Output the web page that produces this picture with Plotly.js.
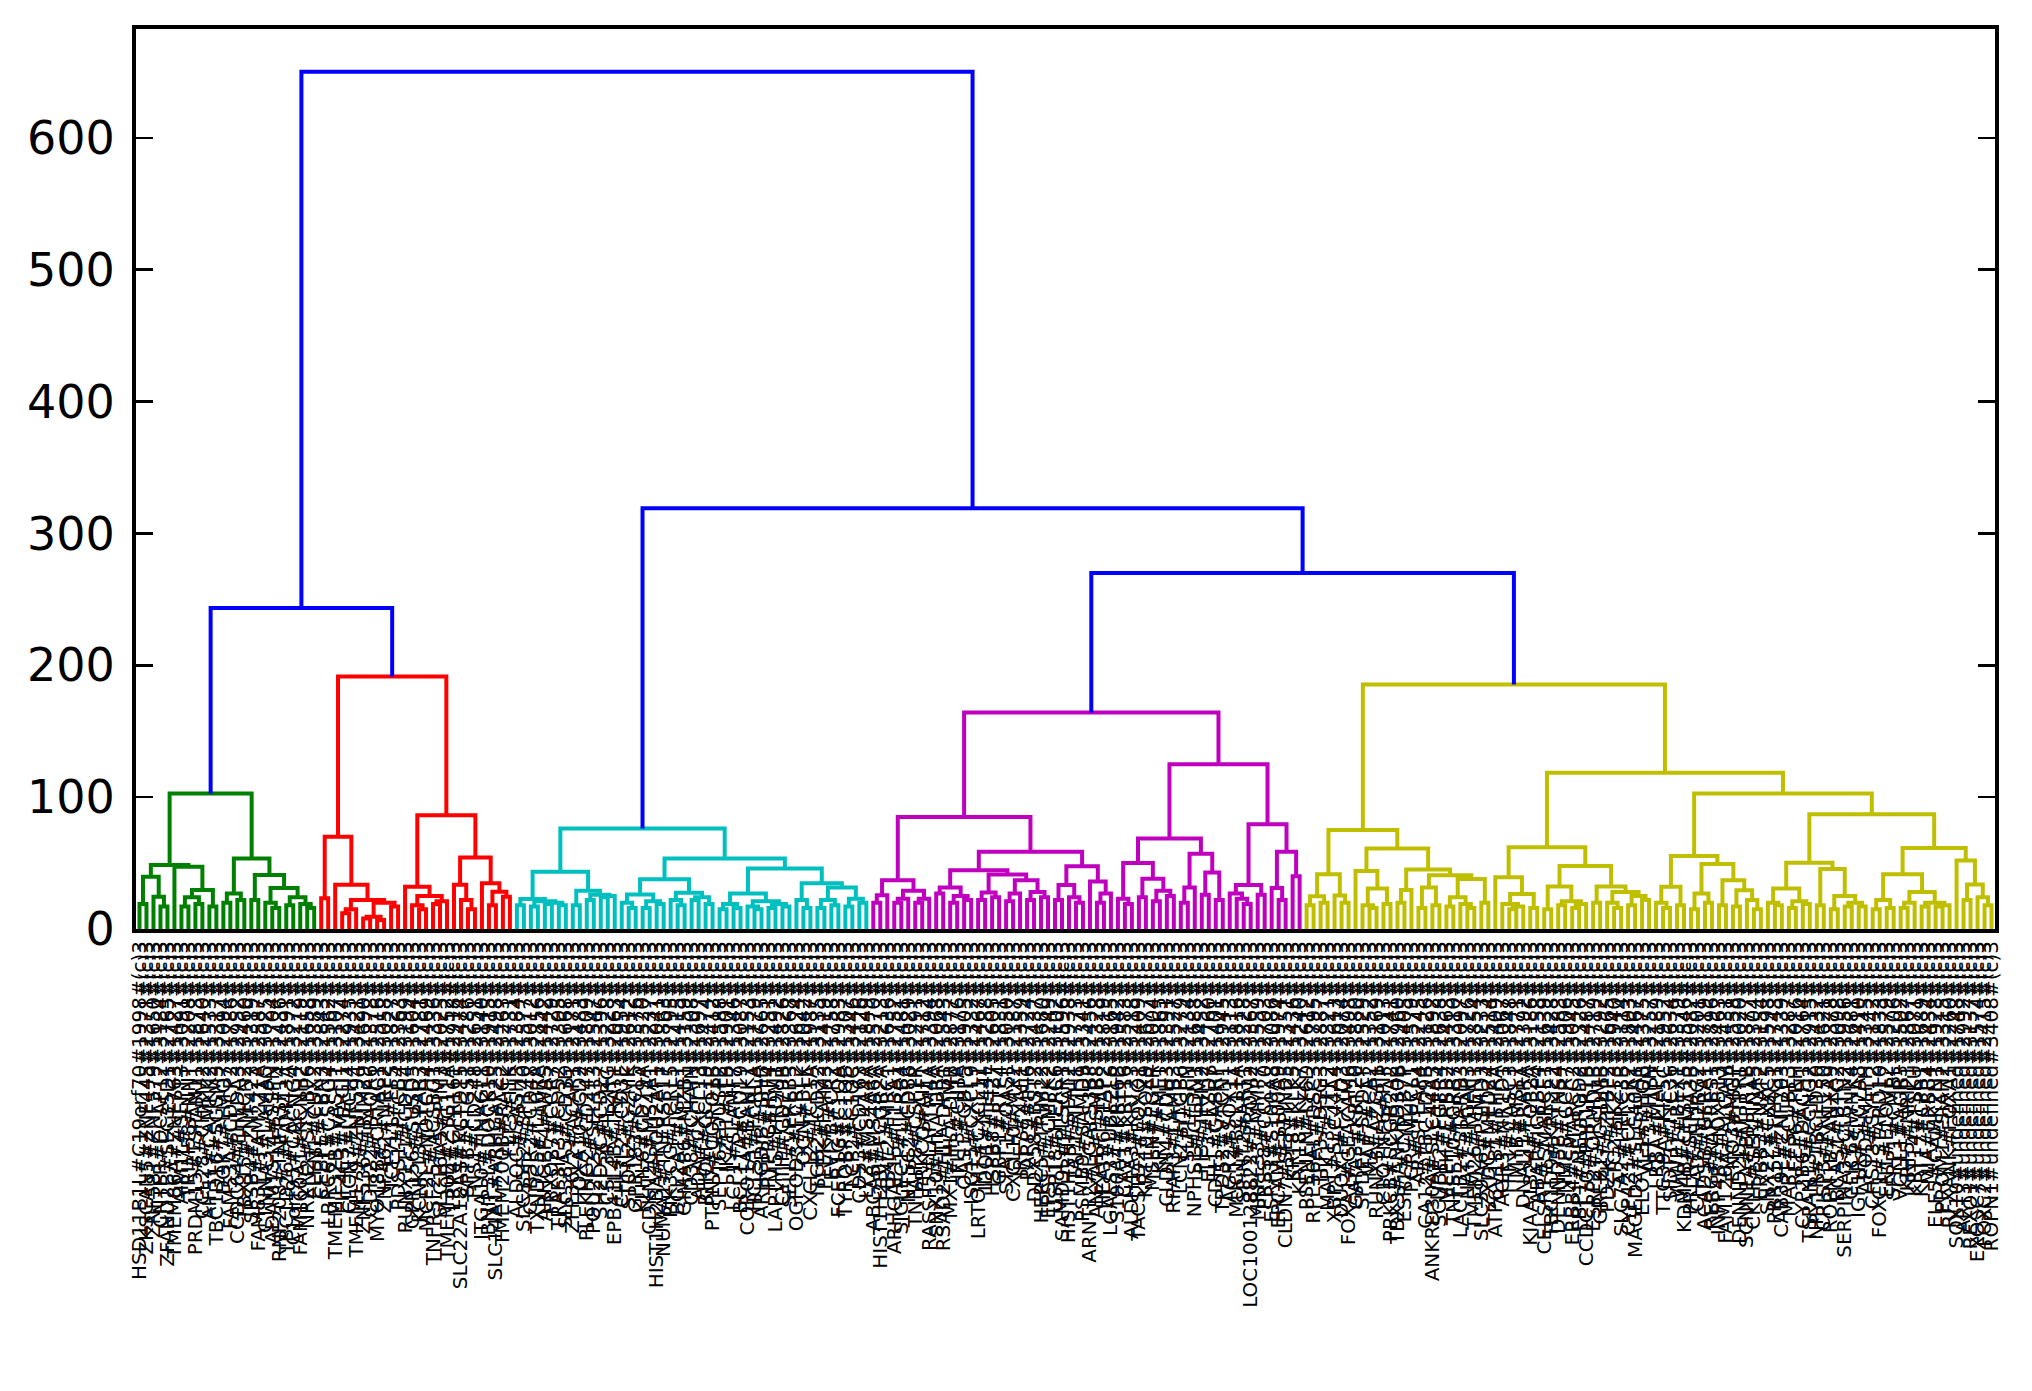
<!DOCTYPE html>
<html><head><meta charset="utf-8">
<script src="https://cdn.plot.ly/plotly-3.0.1.min.js"></script>
<style>html,body{margin:0;padding:0;background:#fff}#chart{width:2032px;height:1391px}</style>
</head><body><div id="chart"></div>
<script>
// ---- leaf labels ----
const geneSymbols = [
"HSD11B1L","ZKSCAN5","ZNF581","CNTFR","ZFAND2B","TMEM86A","AIM1L","TRIM58","PRDM15","CCL28",
"AIF1L","TBC1D16","DOK7","FAM53A","CCDC64","TBX15","SPSB4","FAM83F","CTNNA3","ADAMTS14",
"RNF208","TBC1D26","C1orf95","FAM160A1","NRXN2","ELFN1","CEBPE","LRRC61","TMEM132B","EIF4E3",
"CLCN7","TMEM179","ZNF536","CDH22","MYO18B","ZNF462","TCF7L1","PDSS1","RUNX1T1","GPR156",
"KCNK13","MCF2L","TNFRSF25","SLC16A5","TMEM30B","LRP4","SLC22A18AS","SPTB","TNS1","ITGA10",
"BNIP3L","SLC14A1","TMEM200B","FLT3","ALDOC","SLC35F2","CYB5R2","TXNDC5","ARHGEF4","FBXO27",
"TRAF3IP3","SLC38A5","ZFP36L2","HOXA10","PLEKHG2","POU2F2","SH2D3C","CSF3R","EPB41L4B","CHI3L2",
"STON2","GPR183","KLHL6","CDKN2C","HIST1H2BA","NUMA1","PIK3CG","BCL2A1","GIMAP6","CD38",
"ADA","RHOH","PTPN7","SEPT6","IKZF1","LCP1","BCL11A","CORO1A","HCLS1","ARHGDIB",
"PTPRC","LAPTM5","CYTIP","SELL","OGFOD3","OGN","CXCL12","ITGB2","PLEK","EVI2B",
"FCER1G","TYROBP","LCP2","CD53","LYZ","ABCA8","HIST1H2BJ","FBXL2","ARHGAP15","SIGLEC1",
"NT5C2","TNFAIP8","PRKCQ","RASSF5","SNX10","RSAD2","MX1","IFIT3","OAS1","ISG15",
"LRTOMT","IDO1","HSPB8","GBP1","STAT1","CXCL10","IRF7","PARP9","DDX58","HERC5",
"EPSTI1","USP18","SAMD9L","HIST1H3H","TAP1","PSMB9","ARNTL2","ANXA1","HEATR6","LGALS3",
"S100A4","CAV1","ALDH1A3","TACSTD2","KRT19","MSLN","KRT7","CLDN4","RPAP3","LCN2",
"SLPI","NPHS1","PI3","ELF3","CDH1","TPD52","AGR2","MUC1","SPINT2","LOC100128822",
"MRPL33","PRSS8","ESRP1","EPCAM","CLDN7","KRT8","KRT18","PSENEN","RPL36AL","TFF3",
"MAPK13","XBP1","DUOX1","FOXA1","GATA3","SPDEF","MAP7","RUNX3","C1QTNF6","PRKCB",
"TBX3","ESR1","PGR","AR","CA12","ANKRD30A","SCUBE2","MLPH","TNFSF10","LACTB2",
"NAT1","TMEM26","SLC39A6","ZXDC","ATP6V1B1","AGR3","TFF1","MYB","DNALI1","KIAA1324",
"ABAT","CELSR1","TBC1D9","DENND5B","NME5","ERBB4","FBP1","CCDC170","ESRP2","GREB1",
"PDZK1","STC2","SLC7A2","CYP4Z1","MAGED2","ELOVL5","AFF3","LRBA","TTC39A","SIDT1",
"WWP1","KDM4B","PRLR","CHAD","ACADSB","RERG","INPP4B","FAM120A","ENO3","DENND2D",
"SCNN1A","CKLF","ERBB3","SNX22","PRR15L","CAB39L","MAPT","REEP6","CYP2B6","TSPAN13",
"NPY1R","CRISP3","ROPN1B","BCAS1","SERPINA3","CLIC6","IGF1R","APOD","CHST3","FOXC1",
"EN1","SFRP1","VGLL1","KRT5","KRT14","KRT17","MIA","ELF5","PROM1","RFXANK",
"SOX10","ART3","REXO1","EXOSC7","FOXC2","ROPN1"
];
// second symbol of each label (partner gene)
const partnerSymbols = [
"C19orf70","ZNF445","ZNF579","DCAF12","SLC35D1","ZNF763","SEPT3","NNT","TSPAN11","CHRM2",
"CAMKK2","SGSM3","LMO7","CDCP2","PHLDA3","HMCN2","ZNF423","FAM221A","LAMA5","SSPN",
"TNFRSF14","FAM43A","CACNG4","KCNH2","STXBP6","CUX2","FBN3","CSPG4","VASH1","MAGI1",
"LRCH4","ZNF594","TRIM29","PAQR6","CRTAC1","NRP2","EFS","PLCB4","CDH4","SUSD5",
"LPAR3","NOTCH4","ACSBG1","PIM3","ZYG11A","GPR161","KCTD15","PTGS1","CD248","TINAGL1",
"DOCK10","ARHGAP25","RAC2","ITK","SASH3","SP140","CD48","IL10RA","WAS","CCR7",
"CD52","CD3D","ACAP1","CD2","CD247","SEL1L3","CD27","IL2RG","TRAT1","CD3E",
"GZMK","CCL5","CD79A","MS4A1","POU2AF1","TNFRSF17","FCRL5","IGLL1","MZB1","JCHAIN",
"CXCL13","CCL19","CORO1B","DUSP2","LTB","SLAMF7","CD19","BANK1","FCRLA","SPIB",
"IRF4","PRDM1","CD79B","VPREB3","FCRL2","BLK","TCL1A","CD22","FAIM3","CR2",
"C1QA","C1QB","C1QC","CD163","MS4A4A","MS4A6A","FCGR2A","MRC1","F13A1","LILRB4",
"CD86","CSF1R","AIF1","LAPTM4A","HLA-DRA","HLA-DPB1","HLA-DMB","CIITA","GBP5","CXCL9",
"CXCL11","IFI44L","IFI27","RTP4","OASL","MX2","XAF1","IFI6","BST2","TRIM22",
"CMPK2","HERC6","PLSCR1","STAT2","IFIH1","SAMD9","LGALS3BP","PSMB8","TAP2","UBE2L6",
"KRT6B","KRT16","KRT23","FOXQ1","SOX9","EGFR","MET","CDH3","LAMB3","ITGB6",
"SFN","CLDN1","TRIM2","FZD7","GABRP","VTCN1","SOX11","BCL11A","ART1","PROM2",
"MMP7","CCL20","S100A8","S100A9","SERPINB5","KLK5","KLK7","LY6D","DSC3","DSG3",
"TFF2","SLC44A4","FXYD3","CEACAM6","KRT20","SPDEF","CA2","AZGP1","PIP","SCGB2A2",
"ANKRD30B","CYP2B7P","MUCL1","STEAP4","TBC1D9B","SLC44A3","FGFR4","ERBB2","GRB7","STARD3",
"PGAP3","MIEN1","PSMD3","MED24","THRA","NR1D1","CASC3","MSL1","RARA","TOP2A",
"IGFBP4","SMARCE1","KRT222","TNS4","CCR7","SMARCC2","NEUROD2","PPP1R1B","ORMDL3","GSDMB",
"ZPBP2","IKZF3","LRRC3B","CELSR2","SLC40A1","RHOB","HPN","MAPT","KIF5C","TTC36",
"BEX1","CHST15","SEMA3B","NDRG2","GFRA1","RARRES1","HOXB13","ALCAM","MGP","PTPRT",
"BMPR1B","SERPINA5","NAT2","CXXC5","TPRG1","ZNF703","SCUBE3","TRH","DACH1","CCNG2",
"TBC1D30","RNF150","ANXA9","BTG2","CLSTN2","WNK4","SLC7A8","MLPH","SYTL2","STARD10",
"ELOVL2","CMBL","AGR3","NRIP1","TSKU","CPB1","ERBB4","CAMK2N1","SIAH2","FOXA1"
];
const geneIds = [
1998,2371,1650,3184,2765,1427,3091,2208,1873,2640,
1533,3317,2094,1786,2952,3460,1319,2587,3025,1704,
2436,1891,3272,2119,1658,3389,2843,1562,3107,2274,
1935,3421,2690,1378,2516,3058,1827,2363,3199,1604,
2781,1469,3336,2025,1752,2918,3474,1286,2651,3140,
1915,2498,3263,1731,2384,1577,3012,2856,1442,2729,
3305,1668,2171,3483,1809,2547,1396,3228,2063,1954,
2612,3376,1520,2237,3041,1863,2795,1415,3159,2308,
1697,2474,3412,1588,2901,1346,3087,2153,1779,2665,
3251,1492,2826,3368,1624,2042,1987,3135,2419,1758,
2983,1307,3446,2126,1849,2570,3213,1636,2752,1481,
3029,2291,1712,3394,2068,1543,2877,3176,1905,2332,
1467,3288,2605,1831,3050,2187,1359,2724,3437,1680,
2249,3102,1596,2938,1773,3341,2456,1328,2819,3165,
1942,2583,3218,1409,2677,3004,1865,2391,1527,3279,
2134,1688,3452,2760,1401,2945,3113,1816,2228,3367,
1559,2703,3086,1974,2351,1436,3240,2612,1795,2887,
3321,1613,2074,3498,1880,2529,1352,3169,2013,1741,
2960,3405,1579,2245,3126,1892,2638,1463,3310,2097,
1726,2854,3233,1514,2409,3067,1848,2771,1392,3186,
2158,1639,3428,2583,1906,3045,2326,1487,2719,3292,
1665,2940,3114,1803,2467,1375,3257,2189,1952,2634,
3379,1546,2082,3201,1719,2896,3463,1431,2558,3020,
1877,2304,3154,1598,2743,1339,3287,2016,1764,2915,
3432,1621,2378,3098,1956,2681,1410,3345,2142,1833,
2579,3206,1502,2867,3071,1689,2434,1928,3315,2260,
1748,2992,3137,1574,2415,3408
];

// ---- linkage (nested merges: "(left,right)height", leaves = leaf index) ----
const greenTree =
 "((((0,1)19,(2,(3,4)17)24.5)39.6,(5,(((6,7)17,(8,9)19)24,(10,11)17)29.5)47.2)48.5," +
 "(((12,13)20,(14,15)22)27,((16,17)22,((18,(19,20)16)20,((21,22)18,(23,(24,25)16)19)24)31)41)53.5)102.7";
const redTree =
 "(((26,27)23.4,(28,(((29,30)12,31)15,(((32,33)8,(34,35)6.8)9.3,(36,37)17)20)22)33.5)69.9," +
 "((38,((39,(40,41)15)18,((42,43)19,44)21)25)32,((45,(46,(47,48)15)22)33.5,(49,((50,51)18,(52,53)24.5)28.3)34.6)54.3)86.3)191.4";
const cyanTree =
 "((((54,55)18,((56,57)17,((58,59)19,(60,61)18)20)21)22.7,((62,63)18,((64,65)22,((66,67)24,68)25)26)29)43.4," +
 "((((69,(70,71)16)20,((72,73)16,(74,75)19)21)26.2,((76,(77,78)18)22,((79,80)22,(81,82)19)24)27.4)37.8," +
 "((((83,84)15,(85,86)16)19,((87,(88,89)15)17,((90,91)16,(92,93)17)19)21)27," +
 "((94,(95,96)16)22,(((97,98)16,(99,100)18)22,((101,102)17,(103,104)20)23)31.5)34.7)45.9)53.5)76.2";
const magentaTree =
 "(((((105,106)20,107)25.5,(((108,109)20,110)23,((111,112)20,113)23)29)37," +
 "((((114,115)27,((116,117)20,(118,119)22)25)31.5,(((120,121)22,(122,123)24)27.6,(((124,125)21,126)27,((127,128)22,(129,130)24)28)37)41.4)44.5," +
 "(((131,132)22,(133,(134,135)20)24)33.4,(136,((137,138)20,139)27)36)47.5)58.5)85," +
 "((((140,(141,142)19)23,((143,144)24,((145,146)21,(147,148)25)29)38.2)50,(((149,150)20,151)31.5,((152,153)26,(154,155)22)42.8)57)68.6," +
 "(((156,(157,(158,159)19)23)27,(160,161)26)33.4,((162,(163,164)22)31,(165,166)40)58.5)79.5)125)164.1";
const yellowTree =
 "(((((167,168)18,(169,170)20)24.9,(171,(172,173)20)25.4)41.6," +
 "((174,((175,(176,177)16)18,(178,179)19)30.8)44,(((180,181)20,182)29.6,(((183,184)16,(185,186)18)31.5,(((187,188)17,(189,(190,191)16)19)24,(192,193)20)38)40.8)45.2)61)75," +
 "(((194,((195,((196,197)15,198)17)19,(199,200)16)26.5)39.3," +
 "(((201,202)15,((203,204)18,((205,206)16,207)19)21)32.2,((208,209)20,((210,(211,212)16)20,((213,214)18,(215,216)22)25)28)32.2)47.7)61.9," +
 "((((217,(218,219)16)20,(220,221)18)32,(((222,223)15,(224,225)20)27,((226,227)18,((228,229)17,(230,(231,232)15)22)29.3)37)49.3)55.3," +
 "((((233,(234,235)18)20,((236,237)16,(238,239)19)21)30.7,((240,241)18,((242,243)15,((244,245)17,(246,247)17)20)25)45.5)50.2," +
 "((((248,249)15,(250,251)16)22,(((252,253)16,254)20,((255,256)17,((257,258)17,259)18)20)28)41.6,(260,((261,262)22,(263,(264,265)18)24)33.8)52)61.5)87.1)102.7)118.4)185.5";
// merges above the colour threshold (G,R,C,M,Y = the coloured clusters)
const upperTree = "((G,R)243.4,(C,(M,Y)269.9)319)650";

const clusterColors = {G:"#008000", R:"#ff0000", C:"#00bfbf", M:"#bf00bf", Y:"#bfbf00"};
const aboveColor = "#0000ff";
const yTicks = [0,100,200,300,400,500,600];

// ---- parse ----
function parseTree(str, color, subs) {
  let pos = 0;
  function num() {
    const m = /^\d+(\.\d+)?/.exec(str.slice(pos));
    pos += m[0].length;
    return parseFloat(m[0]);
  }
  function node() {
    const ch = str[pos];
    if (ch === "(") {
      pos++;
      const a = node();
      pos++; // ,
      const b = node();
      pos++; // )
      const h = num();
      return {kids: [a, b], h: h, color: color};
    } else if (/[A-Z]/.test(ch)) {
      pos++;
      return subs[ch];
    }
    return {leaf: num(), h: 0};
  }
  return node();
}
const subs = {
  G: parseTree(greenTree, clusterColors.G),
  R: parseTree(redTree, clusterColors.R),
  C: parseTree(cyanTree, clusterColors.C),
  M: parseTree(magentaTree, clusterColors.M),
  Y: parseTree(yellowTree, clusterColors.Y)
};
const root = parseTree(upperTree, aboveColor, subs);

// ---- layout like scipy dendrogram: leaf k at 5 + 10k ----
const leafOrder = [];
function place(n) {
  if (n.kids) {
    place(n.kids[0]); place(n.kids[1]);
    n.x = (n.kids[0].x + n.kids[1].x) / 2;
  } else {
    n.x = 5 + 10 * leafOrder.length;
    leafOrder.push(n.leaf);
  }
}
place(root);

const segs = {};
function collect(n) {
  if (!n.kids) return;
  const [a, b] = n.kids;
  const s = segs[n.color] || (segs[n.color] = {x: [], y: []});
  s.x.push(a.x, a.x, b.x, b.x, null);
  s.y.push(a.h, n.h, n.h, b.h, null);
  collect(a); collect(b);
}
collect(root);

const order = [clusterColors.G, clusterColors.R, clusterColors.C, clusterColors.M, clusterColors.Y, aboveColor];
const traces = order.map(c => ({
  type: "scatter", mode: "lines", x: segs[c].x, y: segs[c].y,
  line: {color: c, width: 4}, hoverinfo: "skip", showlegend: false, cliponaxis: false
}));

const nLeaves = leafOrder.length;
const tickvals = leafOrder.map((k, i) => 5 + 10 * i);
const ticktext = leafOrder.map(k => geneSymbols[k] + "#" + partnerSymbols[k] + "#" + geneIds[k] + "#(c)3");

const layout = {
  width: 2032, height: 1391,
  margin: {l: 136, r: 37, t: 29, b: 462, pad: 0},
  paper_bgcolor: "#fff", plot_bgcolor: "#fff",
  showlegend: false,
  font: {family: "DejaVu Sans", color: "#000"},
  xaxis: {
    range: [0, 10 * nLeaves], tickmode: "array", tickvals: tickvals, ticktext: ticktext,
    tickangle: -90, tickfont: {family: "DejaVu Sans", size: 20, color: "#000"},
    ticks: "", showline: true, mirror: true, linecolor: "#000", linewidth: 4,
    showgrid: false, zeroline: false, automargin: false, fixedrange: true
  },
  yaxis: {
    range: [0, 682.5], tickmode: "array", tickvals: yTicks, ticktext: yTicks.map(String),
    ticks: "inside", ticklen: 17, tickwidth: 2.5, tickcolor: "#000",
    tickfont: {family: "DejaVu Sans", size: 46, color: "#000"}, ticklabelstandoff: 8,
    showline: true, mirror: "ticks", linecolor: "#000", linewidth: 4,
    showgrid: false, zeroline: false, automargin: false, fixedrange: true
  }
};
Plotly.newPlot("chart", traces, layout, {staticPlot: true, displayModeBar: false});
</script>
</body></html>
